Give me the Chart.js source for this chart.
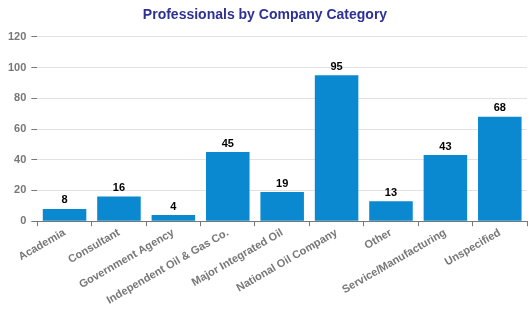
<!DOCTYPE html>
<html>
<head>
<meta charset="utf-8">
<script src="https://cdn.jsdelivr.net/npm/chart.js@4/dist/chart.umd.min.js"></script>
<style>
  body { margin: 0; background: #fff; }
  #wrap { width: 532px; height: 316px; }
</style>
</head>
<body>
<div id="wrap"><canvas id="myChart" width="532" height="316"></canvas></div>
<script>
'use strict';

// DATA
var categories = ['Academia', 'Consultant', 'Government Agency', 'Independent Oil & Gas Co.',
  'Major Integrated Oil', 'National Oil Company', 'Other', 'Service/Manufacturing', 'Unspecified'];
var professionals = [8, 16, 4, 45, 19, 95, 13, 43, 68];
var yTicks = [0, 20, 40, 60, 80, 100, 120];

// VALUE LABELS ON TOP OF BARS
var barValues = {
  id: 'barValues',
  afterDatasetsDraw: function (chart) {
    var ctx = chart.ctx;
    var meta = chart.getDatasetMeta(0);
    ctx.save();
    ctx.font = 'bold 11px "Liberation Sans", Arial, sans-serif';
    ctx.fillStyle = '#000';
    ctx.textAlign = 'center';
    ctx.textBaseline = 'bottom';
    meta.data.forEach(function (bar, i) {
      ctx.fillText(chart.data.datasets[0].data[i], bar.x, bar.y - 3);
    });
    ctx.restore();
  }
};

var ctx = document.getElementById('myChart');
var myChart = new Chart(ctx, {
  type: 'bar',
  data: {
    labels: categories,
    datasets: [{
      label: 'Professionals',
      data: professionals,
      backgroundColor: '#0a88d0',
      barPercentage: 0.8,
      categoryPercentage: 1
    }]
  },
  options: {
    responsive: false,
    animation: false,
    layout: { padding: { top: 5, right: 5, left: 3, bottom: 9 } },
    plugins: {
      legend: { display: false },
      tooltip: { enabled: false },
      title: {
        display: true,
        text: 'Professionals by Company Category',
        color: '#2e3192',
        font: { family: '"Liberation Sans", Arial, sans-serif', size: 14, weight: 'bold' },
        padding: { top: 2, bottom: 13 }
      }
    },
    scales: {
      x: {
        offset: true,
        grid: { offset: true, drawOnChartArea: false, tickLength: 5, tickColor: '#777' },
        border: { color: '#777' },
        ticks: {
          minRotation: 30,
          maxRotation: 30,
          padding: 0,
          color: '#777',
          font: { family: '"Liberation Sans", Arial, sans-serif', size: 11, weight: 'bold' }
        }
      },
      y: {
        min: 0,
        max: 120,
        afterBuildTicks: function (axis) {
          axis.ticks = yTicks.map(function (v) { return { value: v }; });
        },
        grid: { color: '#e2e2e2', tickColor: '#777', tickLength: 6 },
        border: { display: false },
        ticks: {
          padding: 5,
          color: '#777',
          font: { family: '"Liberation Sans", Arial, sans-serif', size: 11, weight: 'bold' }
        }
      }
    }
  },
  plugins: [barValues]
});
</script>
</body>
</html>
